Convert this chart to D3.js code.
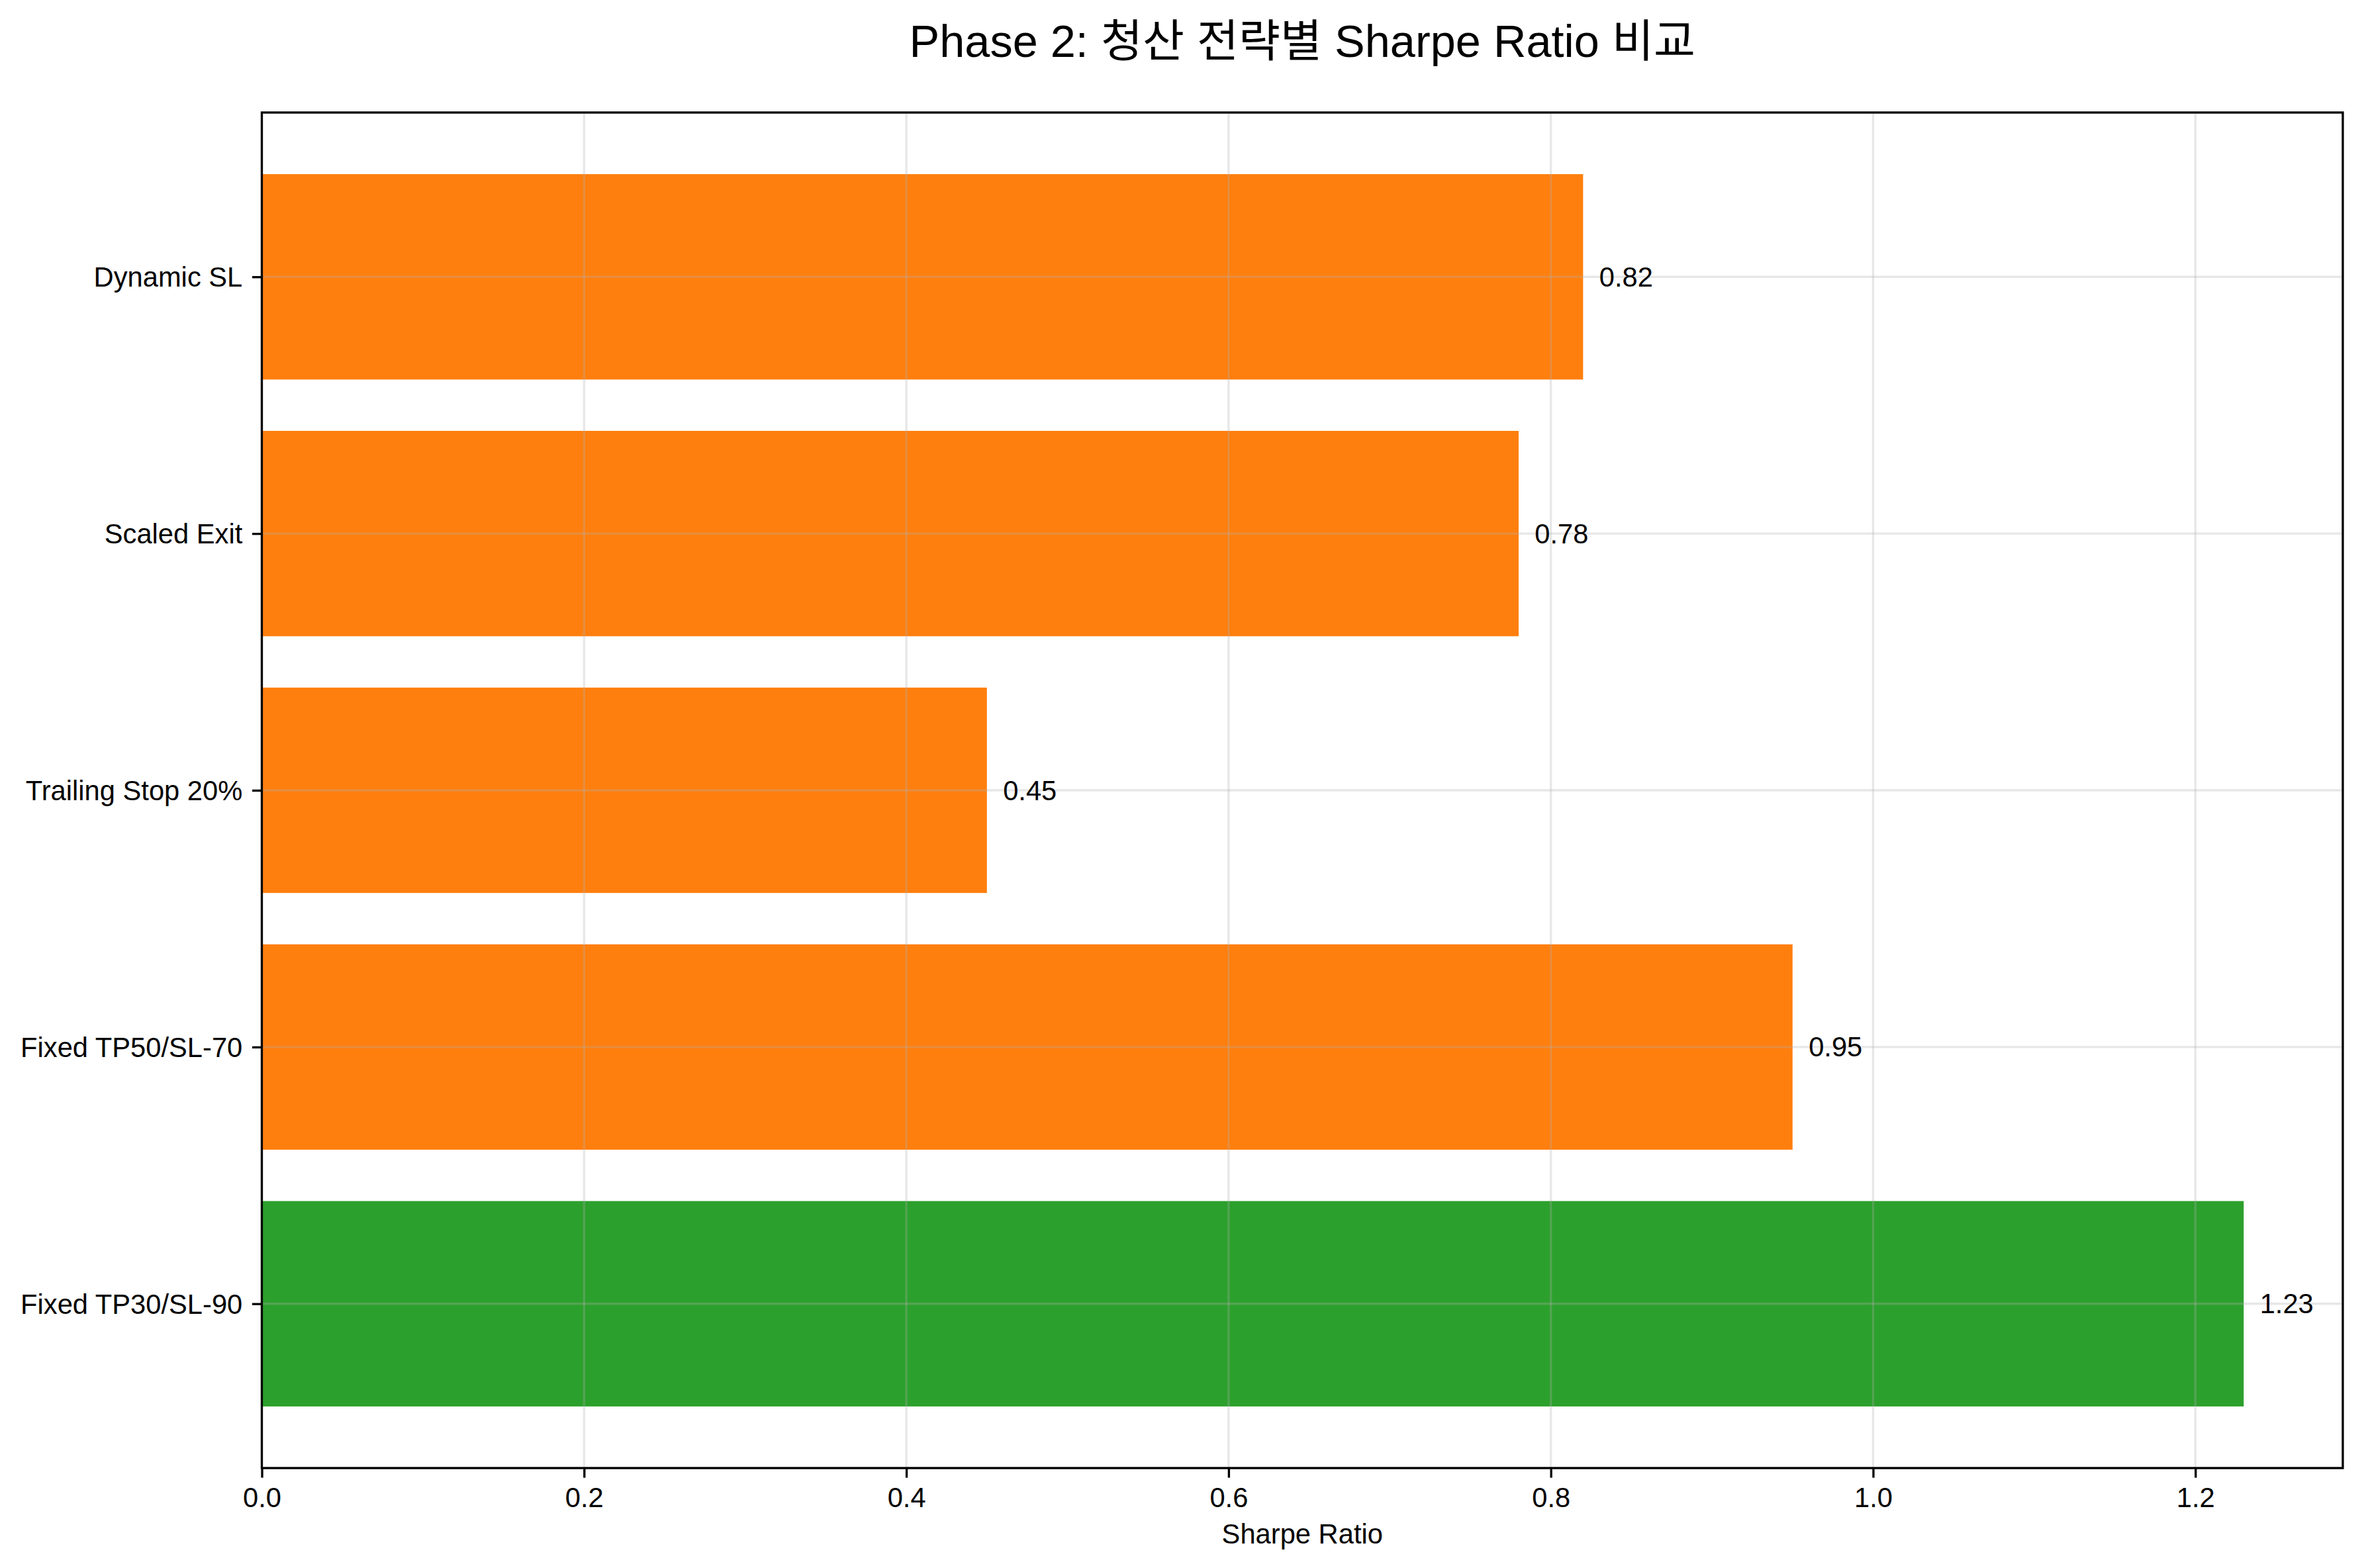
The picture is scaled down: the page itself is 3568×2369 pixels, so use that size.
<!DOCTYPE html>
<html>
<head>
<meta charset="utf-8">
<script src="https://cdn.jsdelivr.net/npm/d3@7"></script>
<style>
  html, body { margin: 0; padding: 0; background: #fff; }
  svg text { font-family: "Liberation Sans", Arial, "Noto Sans CJK KR", sans-serif; fill: #000; }
</style>
</head>
<body>
<svg id="chart" width="3568" height="2369"></svg>
<script>
const categories = ["Fixed TP30/SL-90", "Fixed TP50/SL-70", "Trailing Stop 20%", "Scaled Exit", "Dynamic SL"];
const sharpeValues = [1.23, 0.95, 0.45, 0.78, 0.82];
const barColors = ["#2ca02c", "#ff7f0e", "#ff7f0e", "#ff7f0e", "#ff7f0e"];
const xTicks = [0.0, 0.2, 0.4, 0.6, 0.8, 1.0, 1.2];
const titleText = "Phase 2: 청산 전략별 Sharpe Ratio 비교";
const xLabelText = "Sharpe Ratio";

(function () {
const W = 3568, H = 2369;
const pL = 395.5, pR = 3539, pT = 170, pB = 2218;
const lw = 3.33;
const fs = 41.7;

const svg = d3.select("#chart");
svg.append("rect").attr("width", W).attr("height", H).attr("fill", "#fff");

const xMax = d3.max(sharpeValues) * 1.05;
const x = d3.scaleLinear().domain([0, xMax]).range([pL, pR]);
const n = categories.length;
const y = d3.scaleLinear().domain([-0.64, n - 1 + 0.64]).range([pB, pT]);
const barH = 0.8;

// bars
svg.append("g").selectAll("rect").data(sharpeValues).join("rect")
  .attr("x", x(0))
  .attr("y", (d, i) => y(i + barH / 2))
  .attr("width", d => x(d) - x(0))
  .attr("height", (d, i) => y(i - barH / 2) - y(i + barH / 2))
  .attr("fill", (d, i) => barColors[i]);

// grid (above bars)
const grid = svg.append("g").attr("stroke", "#b0b0b0").attr("stroke-opacity", 0.3).attr("stroke-width", lw);
grid.selectAll("line.v").data(xTicks).join("line").attr("class", "v")
  .attr("x1", d => x(d)).attr("x2", d => x(d)).attr("y1", pT).attr("y2", pB);
grid.selectAll("line.h").data(categories).join("line").attr("class", "h")
  .attr("x1", pL).attr("x2", pR).attr("y1", (d, i) => y(i)).attr("y2", (d, i) => y(i));

// value labels
svg.append("g").selectAll("text").data(sharpeValues).join("text")
  .attr("x", d => x(d + 0.01))
  .attr("y", (d, i) => y(i))
  .attr("dy", "0.35em")
  .attr("font-size", fs)
  .text(d => d.toFixed(2));

// x axis
const xAxis = d3.axisBottom(x).tickValues(xTicks).tickFormat(d3.format(".1f"))
  .tickSize(14.6).tickPadding(14.6);
const gx = svg.append("g").attr("transform", `translate(0,${pB})`).call(xAxis);
gx.select(".domain").remove();
gx.selectAll(".tick line").attr("stroke", "#000").attr("stroke-width", lw);
gx.selectAll(".tick text").attr("font-size", fs).attr("dy", null)
  .attr("y", 59);

// y axis
const yAxis = d3.axisLeft(y).tickValues(d3.range(n)).tickFormat(i => categories[i])
  .tickSize(14.6).tickPadding(14.6);
const gy = svg.append("g").attr("transform", `translate(${pL},0)`).call(yAxis);
gy.select(".domain").remove();
gy.selectAll(".tick line").attr("stroke", "#000").attr("stroke-width", lw);
gy.selectAll(".tick text").attr("font-size", fs).attr("dy", "0.35em");

// spines
svg.append("rect").attr("x", pL).attr("y", pT).attr("width", pR - pL).attr("height", pB - pT)
  .attr("fill", "none").attr("stroke", "#000").attr("stroke-width", lw);

// axis label
svg.append("text").attr("x", (pL + pR) / 2).attr("y", 2332)
  .attr("text-anchor", "middle").attr("font-size", fs).text(xLabelText);

// title
svg.append("text").attr("x", (pL + pR) / 2).attr("y", 86)
  .attr("text-anchor", "middle").attr("font-size", 68.5).text(titleText);
})();
</script>
</body>
</html>
